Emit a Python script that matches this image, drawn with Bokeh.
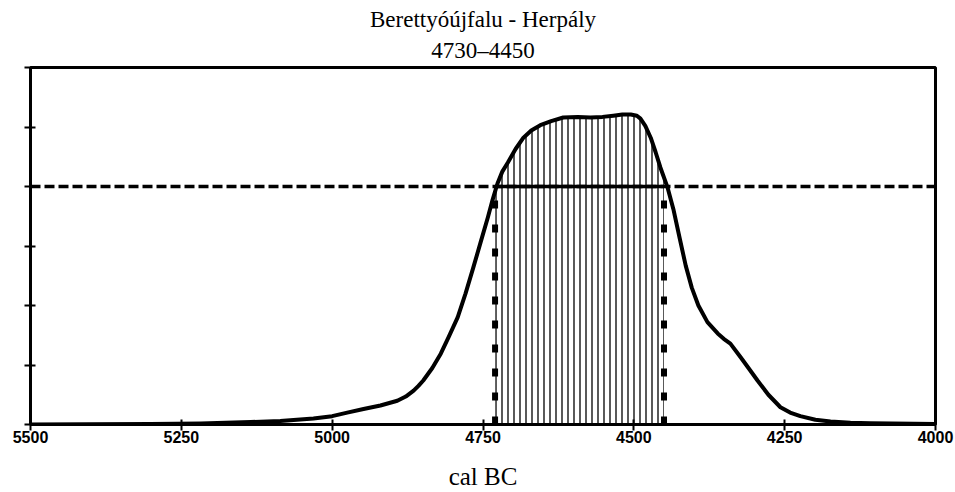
import numpy as np
from bokeh.plotting import figure
from bokeh.models import Range1d, FixedTicker, Title
from bokeh.embed import file_html
from bokeh.resources import INLINE

# ---- data ----
title_main = "Berettyóújfalu - Herpály"
title_range = "4730–4450"
x_label = "cal BC"

range_from = 4730
range_to = 4450
prob_level = 4.0

x_ticks = [5500, 5250, 5000, 4750, 4500, 4250, 4000]
y_ticks = [0, 1, 2, 3, 4, 5, 6]

cal_bc = [5500, 5301, 5218, 5135, 5086, 5031, 5000, 4975, 4948, 4920, 4892,
          4878, 4865, 4857, 4849, 4834, 4820, 4807, 4792, 4779, 4766, 4754,
          4742, 4734, 4726, 4718, 4709, 4696, 4683, 4670, 4655, 4637, 4617,
          4593, 4572, 4552, 4534, 4519, 4505, 4495, 4489, 4481, 4472, 4464,
          4456, 4444, 4434, 4424, 4414, 4404, 4393, 4378, 4361, 4351, 4340,
          4323, 4310, 4295, 4277, 4257, 4241, 4224, 4199, 4174, 4141, 4108,
          4000]
prob = [0.0, 0.008, 0.017, 0.042, 0.06, 0.10, 0.14, 0.20, 0.26, 0.32, 0.40,
        0.47, 0.57, 0.65, 0.74, 0.95, 1.19, 1.47, 1.80, 2.20, 2.64, 3.06,
        3.48, 3.78, 4.05, 4.25, 4.40, 4.63, 4.82, 4.94, 5.03, 5.10, 5.16,
        5.17, 5.16, 5.17, 5.19, 5.21, 5.21, 5.19, 5.14, 5.02, 4.82, 4.58,
        4.32, 3.98, 3.60, 3.13, 2.67, 2.30, 2.00, 1.72, 1.53, 1.44, 1.36,
        1.13, 0.95, 0.74, 0.50, 0.29, 0.20, 0.14, 0.08, 0.05, 0.03, 0.02,
        0.008]

# ---- figure ----
p = figure(width=955, height=492, output_backend="svg", toolbar_location=None,
           x_range=Range1d(5500, 4000), y_range=Range1d(0, 6),
           min_border_left=30, min_border_right=20, min_border_top=67,
           min_border_bottom=68)
p.background_fill_color = "white"
p.border_fill_color = "white"
p.grid.visible = False
p.outline_line_color = "black"
p.outline_line_width = 3

p.title.text = title_main
p.title.align = "center"
p.title.text_font = "Liberation Serif"
p.title.text_font_size = "23px"
p.title.text_font_style = "normal"
p.title.text_color = "black"
p.title.standoff = 0
p.add_layout(Title(text=title_range, align="center", text_font="Liberation Serif",
                   text_font_size="23px", text_font_style="normal",
                   text_color="black", standoff=9),
             "above")

# hatched region between the range bounds
xs = np.array(cal_bc, dtype=float)
ys = np.array(prob, dtype=float)
order = np.argsort(xs)
mask = (xs < range_from) & (xs > range_to)
hx = np.concatenate([[range_from], xs[mask], [range_to]])
hy = np.concatenate([[np.interp(range_from, xs[order], ys[order])], ys[mask],
                     [np.interp(range_to, xs[order], ys[order])]])
p.varea(x=hx, y1=0, y2=hy, fill_color=None, fill_alpha=0,
        hatch_pattern="vertical_line", hatch_color="black",
        hatch_weight=1.3, hatch_scale=6)

# probability level line
p.line(x=[5500, 4000], y=[prob_level, prob_level], line_color="black",
       line_width=3.5, line_dash="10 4")
p.line(x=[range_from, range_to], y=[prob_level, prob_level], line_color="black",
       line_width=3.5)

# range bound markers
p.segment(x0=[range_from, range_to], y0=[0, 0], x1=[range_from, range_to],
          y1=[prob_level, prob_level], line_color="black", line_width=6,
          line_dash="8 16")

# curve
p.line(x=cal_bc, y=prob, line_color="black", line_width=4, line_join="round")

# axes
p.xaxis.ticker = FixedTicker(ticks=x_ticks)
p.yaxis.ticker = FixedTicker(ticks=y_ticks)
p.yaxis.major_label_overrides = {t: "" for t in y_ticks}
p.yaxis.major_label_standoff = 0
for ax in (p.xaxis[0], p.yaxis[0]):
    ax.axis_line_width = 3
    ax.axis_line_color = "black"
    ax.major_tick_line_color = "black"
    ax.major_tick_line_width = 2
    ax.major_tick_in = 5
    ax.major_tick_out = 6
    ax.minor_tick_line_color = None
p.xaxis.major_label_text_font = "Liberation Sans"
p.xaxis.major_label_text_font_style = "bold"
p.xaxis.major_label_text_font_size = "16px"
p.xaxis.major_label_text_color = "black"
p.xaxis.major_label_standoff = 0
p.xaxis.axis_label = x_label
p.xaxis.axis_label_text_font = "Liberation Serif"
p.xaxis.axis_label_text_font_style = "normal"
p.xaxis.axis_label_text_font_size = "25px"
p.xaxis.axis_label_text_color = "black"
p.xaxis.axis_label_standoff = 17

open("out.html", "w").write(file_html(p, INLINE))
